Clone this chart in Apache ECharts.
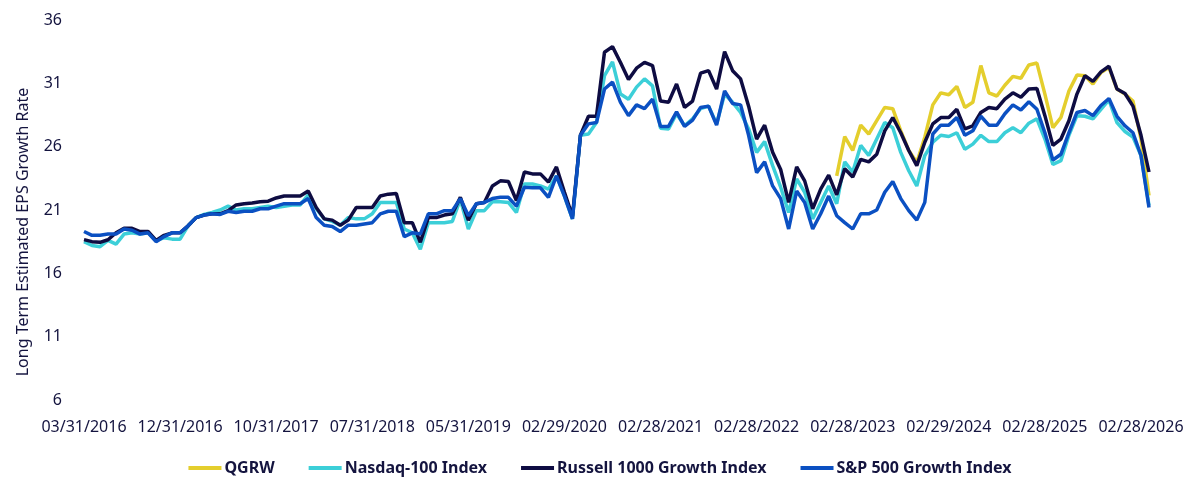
<!DOCTYPE html>
<html>
<head>
<meta charset="utf-8">
<script src="https://cdn.jsdelivr.net/npm/echarts@6/dist/echarts.min.js"></script>
<style>
  html, body { margin: 0; padding: 0; background: #fff; }
  #chart { width: 1200px; height: 496px; }
</style>
</head>
<body>
<div id="chart"></div>
<script>
// tick labels shown under the axis, one every 12 observations
const tickLabels = [
  '03/31/2016', '12/31/2016', '10/31/2017', '07/31/2018', '05/31/2019', '02/29/2020',
  '02/28/2021', '02/28/2022', '02/28/2023', '02/29/2024', '02/28/2025', '02/28/2026',
];
const pointCount = 134;
const labelStep = 12;

// QGRW only starts at observation 94
const qgrwStart = 94;
const qgrw = [
  23.7, 26.8, 25.7, 27.7, 27.0, 28.05, 29.1, 29.0, 27.25, 25.7,
  24.75, 26.75, 29.3, 30.25, 30.1, 30.75, 29.1, 29.5, 32.4, 30.25,
  30.0, 30.85, 31.55, 31.4, 32.45, 32.6, 30.15, 27.5, 28.3, 30.4,
  31.65, 31.6, 30.95, 31.85, 32.25, 30.55, 30.15, 29.6, 26.6, 22.15,
];

const nasdaq100 = [
  18.5, 18.2, 18.1, 18.6, 18.3, 19.1, 19.2, 19.1, 19.2, 18.6,
  18.8, 18.7, 18.7, 19.75, 20.4, 20.65, 20.8, 21.0, 21.3, 21.0,
  21.1, 21.1, 21.2, 21.3, 21.2, 21.3, 21.4, 21.4, 22.2, 21.1,
  20.3, 20.1, 19.8, 20.4, 20.3, 20.3, 20.7, 21.6, 21.6, 21.6,
  19.5, 19.2, 17.9, 20.0, 20.0, 20.0, 20.1, 21.85, 19.5, 20.95,
  20.95, 21.65, 21.65, 21.6, 20.8, 23.05, 23.05, 22.9, 22.65, 23.7,
  22.1, 20.3, 26.9, 27.0, 27.9, 31.6, 32.7, 30.15, 29.75, 30.7,
  31.35, 30.8, 27.45, 27.4, 28.6, 27.65, 28.2, 29.0, 29.2, 27.8,
  30.15, 29.5, 28.7, 27.4, 25.55, 26.4, 24.5, 22.8, 20.8, 23.45,
  22.4, 20.3, 21.6, 22.9, 21.5, 24.8, 24.0, 26.1, 25.3, 26.6,
  27.9, 27.5, 25.55, 24.1, 22.9, 25.3, 26.35, 26.9, 26.8, 27.1,
  25.8, 26.2, 26.9, 26.4, 26.4, 27.1, 27.5, 27.1, 27.85, 28.2,
  26.6, 24.6, 24.9, 26.9, 28.45, 28.4, 28.2, 28.95, 29.7, 27.9,
  27.2, 26.75, 25.3, 21.35,
];

const russell1000g = [
  18.66, 18.5, 18.45, 18.65, 19.2, 19.55, 19.55, 19.3, 19.3, 18.6,
  19.0, 19.2, 19.2, 19.75, 20.4, 20.6, 20.7, 20.7, 20.95, 21.4,
  21.5, 21.55, 21.65, 21.7, 21.95, 22.1, 22.1, 22.1, 22.5, 21.2,
  20.3, 20.2, 19.8, 20.2, 21.2, 21.2, 21.2, 22.1, 22.25, 22.3,
  20.0, 20.0, 18.45, 20.4, 20.4, 20.6, 20.7, 22.0, 20.2, 21.5,
  21.6, 22.9, 23.3, 23.25, 21.75, 24.0, 23.85, 23.85, 23.2, 24.4,
  22.4, 20.5, 26.9, 28.4, 28.4, 33.45, 33.9, 32.65, 31.3, 32.2,
  32.65, 32.4, 29.6, 29.5, 30.95, 29.1, 29.6, 31.8, 32.0, 30.55,
  33.5, 32.0, 31.35, 29.2, 26.6, 27.7, 25.55, 24.2, 21.6, 24.4,
  23.3, 21.1, 22.65, 23.75, 22.2, 24.25, 23.6, 25.0, 24.8, 25.4,
  27.25, 28.3, 27.1, 25.7, 24.5, 26.35, 27.8, 28.3, 28.3, 28.95,
  27.4, 27.65, 28.7, 29.1, 29.0, 29.75, 30.25, 29.9, 30.55, 30.6,
  28.45, 26.1, 26.6, 28.05, 30.15, 31.6, 31.15, 31.9, 32.35, 30.55,
  30.2, 29.2, 26.9, 24.0,
];

const sp500g = [
  19.3, 19.0, 19.0, 19.1, 19.1, 19.5, 19.4, 19.1, 19.2, 18.5,
  18.9, 19.2, 19.2, 19.75, 20.4, 20.6, 20.7, 20.65, 20.9, 20.8,
  20.9, 20.9, 21.1, 21.1, 21.3, 21.5, 21.5, 21.5, 21.9, 20.4,
  19.8, 19.7, 19.3, 19.8, 19.8, 19.9, 20.0, 20.7, 20.9, 20.9,
  18.9, 19.2, 19.1, 20.7, 20.7, 20.95, 20.95, 21.9, 20.55, 21.5,
  21.6, 21.9, 22.0, 22.0, 21.3, 22.8, 22.75, 22.75, 22.0, 23.7,
  22.1, 20.3, 26.9, 27.8, 27.9, 30.55, 31.1, 29.5, 28.45, 29.3,
  29.0, 29.75, 27.6, 27.6, 28.75, 27.6, 28.1, 29.1, 29.2, 27.7,
  30.4, 29.4, 29.3, 26.9, 23.95, 24.8, 22.9, 21.9, 19.5, 22.5,
  21.6, 19.5, 20.7, 22.1, 20.55, 20.0, 19.5, 20.7, 20.7, 21.0,
  22.4, 23.25, 21.9, 20.95, 20.2, 21.6, 27.0, 27.7, 27.7, 28.3,
  26.9, 27.25, 28.4, 27.7, 27.7, 28.6, 29.3, 28.9, 29.55, 28.95,
  27.1, 24.95, 25.4, 27.1, 28.7, 28.85, 28.45, 29.25, 29.8, 28.4,
  27.65, 27.1, 25.3, 21.2,
];

const categories = Array.from({ length: pointCount }, (_, i) =>
  i % labelStep === 0
    ? tickLabels[i / labelStep]
    : `${tickLabels[Math.floor(i / labelStep)]} +${i % labelStep}`);

const textColor = '#14143f';
const font = 'Noto Sans';

const lineSeries = (name, data, color) => ({
  name,
  type: 'line',
  data,
  symbol: 'none',
  smooth: false,
  connectNulls: false,
  lineStyle: { width: 3.5, color },
  itemStyle: { color },
  emphasis: { disabled: true },
});

const chart = echarts.init(document.getElementById('chart'), null, { renderer: 'canvas' });

chart.setOption({
  animation: false,
  backgroundColor: '#fff',
  textStyle: { fontFamily: font, color: textColor },
  grid: { left: 84, right: 51, top: 20, bottom: 96 },
  legend: {
    top: 455,
    left: 'center',
    icon: 'rect',
    itemWidth: 33,
    itemHeight: 4,
    itemGap: 34,
    textStyle: { fontFamily: font, fontSize: 16, fontWeight: 'bold', color: textColor, padding: [0, 0, 0, -2] },
    data: ['QGRW', 'Nasdaq-100 Index', 'Russell 1000 Growth Index', 'S&P 500 Growth Index'],
  },
  xAxis: {
    type: 'category',
    data: categories,
    boundaryGap: false,
    axisLine: { show: false },
    axisTick: { show: false },
    splitLine: { show: false },
    axisLabel: {
      interval: labelStep - 1,
      margin: 19,
      fontSize: 16,
      fontFamily: font,
      color: textColor,
    },
  },
  yAxis: {
    type: 'value',
    min: 6,
    max: 36,
    interval: 5,
    name: 'Long Term Estimated EPS Growth Rate',
    nameLocation: 'middle',
    nameGap: 53,
    // shift the title downward, as in the source
    nameTextStyle: { fontSize: 16, fontFamily: font, color: textColor, padding: [0, 44, 0, 0] },
    axisLine: { show: false },
    axisTick: { show: false },
    splitLine: { show: false },
    axisLabel: { margin: 22, fontSize: 16, fontFamily: font, color: textColor },
  },
  series: [
    lineSeries('QGRW', Array(qgrwStart).fill(null).concat(qgrw), '#e4ce2d'),
    lineSeries('Nasdaq-100 Index', nasdaq100, '#3ccfd8'),
    lineSeries('Russell 1000 Growth Index', russell1000g, '#0e0c42'),
    lineSeries('S&P 500 Growth Index', sp500g, '#0b50c2'),
  ],
});
</script>
</body>
</html>
